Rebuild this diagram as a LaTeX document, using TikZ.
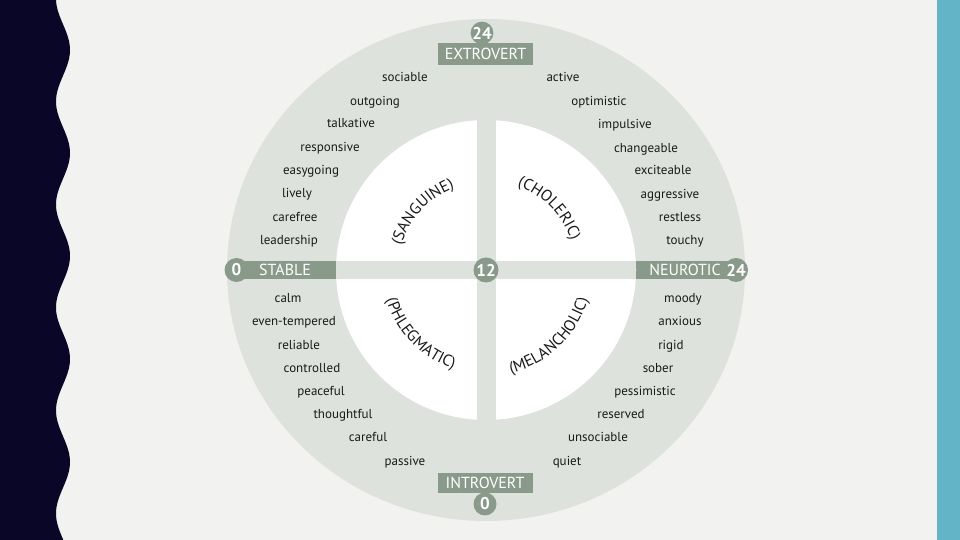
\documentclass[tikz,border=0pt]{standalone}
\usepackage{fontspec}
\setmainfont{PT Sans}
\usetikzlibrary{decorations.text}
\definecolor{bgc}{HTML}{F2F2F0}
\definecolor{navyc}{HTML}{0A0628}
\definecolor{sidebar}{HTML}{63B4C6}
\definecolor{diskc}{HTML}{DDE2DC}
\definecolor{sage}{HTML}{8A9A8A}
\definecolor{ink}{HTML}{1A1A1A}
\newcommand{\curvefont}{\fontsize{16}{18}\selectfont}
\begin{document}
\begin{tikzpicture}[x=1pt,y=1pt,
  word/.style={font=\fontsize{13}{15}\selectfont, text=ink, anchor=base, inner sep=0pt},
  lab/.style={font=\fontsize{16}{18}\selectfont, text=white, inner sep=0pt},
  num/.style={font=\bfseries\fontsize{17}{19}\selectfont, text=white},
  badge/.style={circle, fill=sage, inner sep=0pt},
  labbox/.style={fill=sage, inner sep=0pt, minimum width=95pt},
  curved/.style={decorate, decoration={text along path, text align=center, text color=ink, text={#1}}}
]
\useasboundingbox (0,0) rectangle (960,540);
% background
\fill[bgc] (0,0) rectangle (960,540);
\fill[navyc] (0,540) -- plot[domain=0:540, samples=181, variable=\t] ({63+7*cos(3.4951*(\t-50))}, {540-\t}) -- (0,0) -- cycle;
\fill[sidebar] (937,0) rectangle (960,540);
% disk
\fill[diskc] (486,270) ellipse[x radius=259, y radius=251];
\fill[sage] (236,261) rectangle (736,279);
\fill[white] (486,270) circle[radius=150];
\begin{scope}
  \clip (486,270) circle[radius=150];
  \fill[diskc] (320,261) rectangle (650,279);
  \fill[diskc] (476.5,110) rectangle (495.5,430);
\end{scope}
% axis labels
\node[labbox, minimum height=22pt, lab] (ext) at (485.5,486) {EXTROVERT};
\node[labbox, minimum height=20pt, lab] (intr) at (485,57) {INTROVERT};
\node[badge, minimum size=22pt, num] (btop) at (482,507) {24};
\node[badge, minimum size=23pt, num] (bbot) at (485,36) {0};
\node[badge, minimum size=24pt, num] (bleft) at (236.5,270) {0};
\node[badge, minimum size=24pt, num] (bright) at (736,270) {24};
\node[badge, minimum size=25pt, num] (bmid) at (486,270) {12};
\node[lab] (stable) at (285,270) {STABLE};
\node[lab] (neuro) at (685,270) {NEUROTIC};
% words
\foreach \w/\x/\y [count=\i] in {sociable/405/463, outgoing/375/439, talkative/351/417, responsive/330/393, easygoing/311/370, lively/297/347, carefree/295/323, leadership/289/300}
  \node[word] (lt\i) at (\x,\y-4.5) {\w};
\foreach \w/\x/\y [count=\i] in {active/563/463, optimistic/599/439, impulsive/625/416, changeable/646/392, exciteable/663/370, aggressive/670/346, restless/680/323, touchy/685/300}
  \node[word] (rt\i) at (\x,\y-4.5) {\w};
\foreach \w/\x/\y [count=\i] in {calm/288/242, even-tempered/294/219, reliable/299/195, controlled/312/172, peaceful/321/149, thoughtful/343/126, careful/368/103, passive/405/79}
  \node[word] (lb\i) at (\x,\y-4.5) {\w};
\foreach \w/\x/\y [count=\i] in {moody/683/242, anxious/680/219, rigid/671/195, sober/658/172, pessimistic/645/149, reserved/621/126, unsociable/598/103, quiet/567/79}
  \node[word] (rb\i) at (\x,\y-4.5) {\w};
% temperaments
\path[curved={|\curvefont|(SANGUINE)}, shift={(486,270)}] (177.5:88) arc[start angle=177.5, end angle=97.5, radius=88];
\path[curved={|\curvefont|(CHOLERIC)}, shift={(486,270)}] (84.2:90) arc[start angle=84.2, end angle=4.2, radius=90];
\path[curved={|\curvefont|(PHLEGMATIC)}, shift={(486,270)}] (184.2:104) arc[start angle=184.2, end angle=264.2, radius=104];
\path[curved={|\curvefont|(MELANCHOLIC)}, shift={(486,270)}] (273.7:106) arc[start angle=273.7, end angle=353.7, radius=106];
\end{tikzpicture}
\end{document}
